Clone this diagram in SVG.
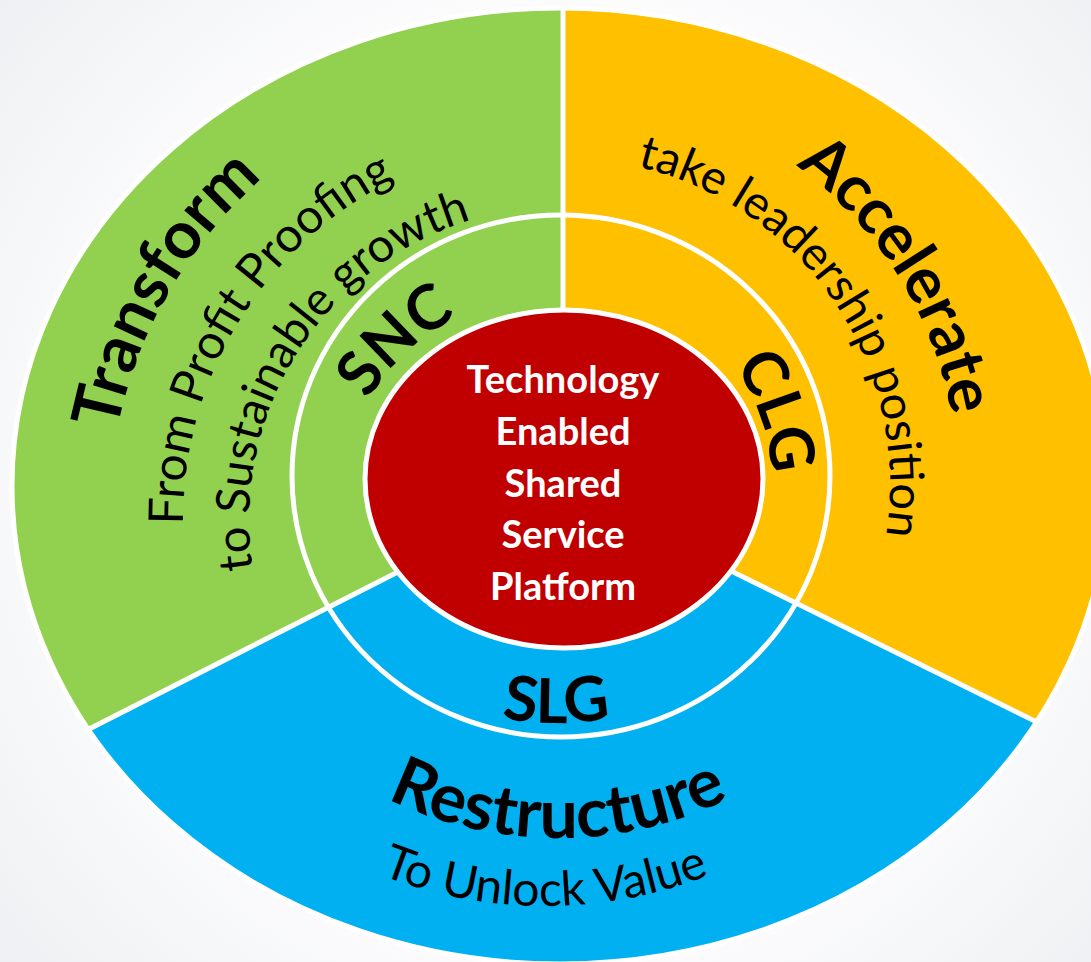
<svg xmlns="http://www.w3.org/2000/svg" width="1091" height="962" viewBox="0 0 1091 962">
  <defs>
    <radialGradient id="bg" cx="560" cy="480" r="820" gradientUnits="userSpaceOnUse">
      <stop offset="0.55" stop-color="#fdfdfe"/>
      <stop offset="1" stop-color="#eaecef"/>
    </radialGradient>
    <clipPath id="outerClip">
      <ellipse cx="560" cy="486" rx="548" ry="478"/>
    </clipPath>
    <path id="p-accel" d="M618.0,93.8 A395,395 0 0 1 938.7,607.1"/>
    <path id="p-take" d="M540.2,158.8 A327,327 0 0 1 856.9,628.4"/>
    <path id="p-clg" d="M654.6,297.2 A209,209 0 0 1 750.8,576.6"/>
    <path id="p-trans" d="M135.4,675.6 A455,455 0 0 1 484.0,71.9"/>
    <path id="p-from" d="M229.1,701.3 A380,380 0 0 1 573.0,140.1"/>
    <path id="p-to" d="M299.7,691.0 A314,314 0 0 1 601.3,208.4"/>
    <path id="p-snc" d="M334.1,512.0 A229,229 0 0 1 571.0,291.1"/>
    <path id="p-slg" d="M377.3,658.0 A278,278 0 0 0 734.7,658.0"/>
    <path id="p-restr" d="M282.2,723.8 A390,390 0 0 0 833.8,723.8"/>
    <path id="p-unlock" d="M255.7,800.7 A450,450 0 0 0 834.3,800.7"/>
  </defs>
  <style>
    .bold { font-family: Lato, 'Liberation Sans', sans-serif; font-weight: 700; fill: #000; }
    .reg { font-family: Lato, 'Liberation Sans', sans-serif; font-weight: 400; fill: #000; }
    .core { font-family: Lato, 'Liberation Sans', sans-serif; font-weight: 700; fill: #fff; font-size: 38px; }
    .div { stroke: #fff; stroke-width: 5; fill: none; }
    .ring { stroke: #fff; stroke-width: 5; fill: none; }
  </style>

  <rect width="1091" height="962" fill="url(#bg)"/>

  <g id="segments" clip-path="url(#outerClip)">
    <g id="restructure-segment">
      <ellipse cx="560" cy="486" rx="548" ry="478" fill="#00b0f0"/>
    </g>
    <g id="transform-segment">
      <polygon points="563,488 563,-20 -20,-20 -20,784.7" fill="#92d050"/>
    </g>
    <g id="accelerate-segment">
      <polygon points="563,488 563,-20 1111,-20 1111,758.7" fill="#ffc000"/>
    </g>
    <g id="dividers">
      <line class="div" x1="563" y1="488" x2="563" y2="-20"/>
      <line class="div" x1="563" y1="488" x2="40" y2="754"/>
      <line class="div" x1="563" y1="488" x2="1080" y2="743.4"/>
    </g>
  </g>
  <ellipse cx="560" cy="486" rx="548" ry="478" class="ring"/>

  <g id="inner-ring">
    <ellipse cx="561" cy="476" rx="269" ry="261" class="ring"/>
  </g>

  <g id="core">
    <ellipse cx="564" cy="479" rx="199" ry="169" fill="#c00000" stroke="#fff" stroke-width="5"/>
    <text class="core" text-anchor="middle" x="563" y="393">Technology</text>
    <text class="core" text-anchor="middle" x="563" y="445">Enabled</text>
    <text class="core" text-anchor="middle" x="563" y="497">Shared</text>
    <text class="core" text-anchor="middle" x="563" y="548">Service</text>
    <text class="core" text-anchor="middle" x="563" y="600">Platform</text>
  </g>

  <g id="transform-labels">
    <text class="bold" font-size="66"><textPath href="#p-trans" startOffset="50%" text-anchor="middle">Transform</textPath></text>
    <text class="reg" font-size="48"><textPath href="#p-from" startOffset="50%" text-anchor="middle">From Profit Proofing</textPath></text>
    <text class="reg" font-size="47"><textPath href="#p-to" startOffset="50%" text-anchor="middle">to Sustainable growth</textPath></text>
    <text class="bold" font-size="62"><textPath href="#p-snc" startOffset="50%" text-anchor="middle">SNC</textPath></text>
  </g>

  <g id="accelerate-labels">
    <text class="bold" font-size="64"><textPath href="#p-accel" startOffset="50%" text-anchor="middle">Accelerate</textPath></text>
    <text class="reg" font-size="47"><textPath href="#p-take" startOffset="50%" text-anchor="middle">take leadership position</textPath></text>
    <text class="bold" font-size="62"><textPath href="#p-clg" startOffset="50%" text-anchor="middle">CLG</textPath></text>
  </g>

  <g id="restructure-labels">
    <text class="bold" font-size="62"><textPath href="#p-slg" startOffset="50%" text-anchor="middle">SLG</textPath></text>
    <text class="bold" font-size="68"><textPath href="#p-restr" startOffset="50%" text-anchor="middle">Restructure</textPath></text>
    <text class="reg" font-size="48"><textPath href="#p-unlock" startOffset="50%" text-anchor="middle">To Unlock Value</textPath></text>
  </g>
</svg>
